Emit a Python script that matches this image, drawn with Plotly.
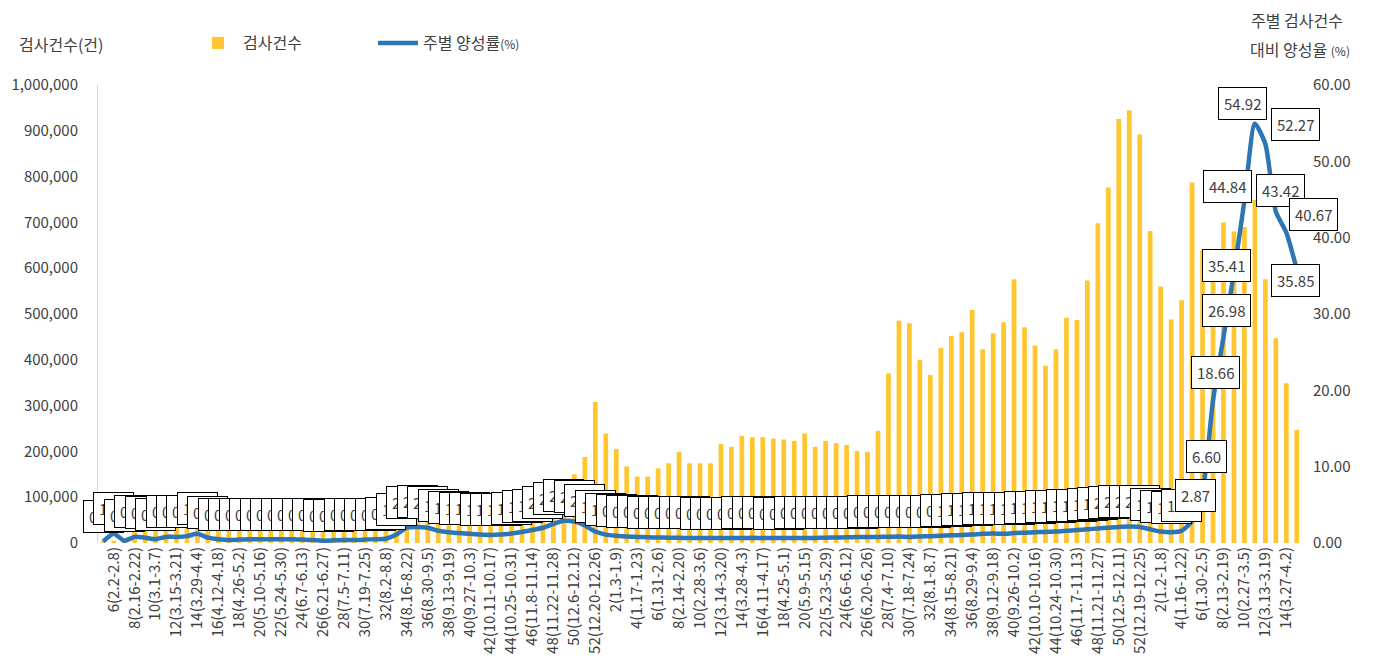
import plotly.graph_objects as go
from plotly.subplots import make_subplots

# ---------------- data ----------------
categories = [
    # 2020
    "5(1.26-2.1)", "6(2.2-2.8)", "7(2.9-2.15)", "8(2.16-2.22)", "9(2.23-2.29)", "10(3.1-3.7)",
    "11(3.8-3.14)", "12(3.15-3.21)", "13(3.22-3.28)", "14(3.29-4.4)", "15(4.5-4.11)", "16(4.12-4.18)",
    "17(4.19-4.25)", "18(4.26-5.2)", "19(5.3-5.9)", "20(5.10-5.16)", "21(5.17-5.23)", "22(5.24-5.30)",
    "23(5.31-6.6)", "24(6.7-6.13)", "25(6.14-6.20)", "26(6.21-6.27)", "27(6.28-7.4)", "28(7.5-7.11)",
    "29(7.12-7.18)", "30(7.19-7.25)", "31(7.26-8.1)", "32(8.2-8.8)", "33(8.9-8.15)", "34(8.16-8.22)",
    "35(8.23-8.29)", "36(8.30-9.5)", "37(9.6-9.12)", "38(9.13-9.19)", "39(9.20-9.26)", "40(9.27-10.3)",
    "41(10.4-10.10)", "42(10.11-10.17)", "43(10.18-10.24)", "44(10.25-10.31)", "45(11.1-11.7)",
    "46(11.8-11.14)", "47(11.15-11.21)", "48(11.22-11.28)", "49(11.29-12.5)", "50(12.6-12.12)",
    "51(12.13-12.19)", "52(12.20-12.26)",
    # 2021
    "1(12.27-1.2)", "2(1.3-1.9)", "3(1.10-1.16)", "4(1.17-1.23)", "5(1.24-1.30)", "6(1.31-2.6)",
    "7(2.7-2.13)", "8(2.14-2.20)", "9(2.21-2.27)", "10(2.28-3.6)", "11(3.7-3.13)", "12(3.14-3.20)",
    "13(3.21-3.27)", "14(3.28-4.3)", "15(4.4-4.10)", "16(4.11-4.17)", "17(4.18-4.24)", "18(4.25-5.1)",
    "19(5.2-5.8)", "20(5.9-5.15)", "21(5.16-5.22)", "22(5.23-5.29)", "23(5.30-6.5)", "24(6.6-6.12)",
    "25(6.13-6.19)", "26(6.20-6.26)", "27(6.27-7.3)", "28(7.4-7.10)", "29(7.11-7.17)", "30(7.18-7.24)",
    "31(7.25-7.31)", "32(8.1-8.7)", "33(8.8-8.14)", "34(8.15-8.21)", "35(8.22-8.28)", "36(8.29-9.4)",
    "37(9.5-9.11)", "38(9.12-9.18)", "39(9.19-9.25)", "40(9.26-10.2)", "41(10.3-10.9)",
    "42(10.10-10.16)", "43(10.17-10.23)", "44(10.24-10.30)", "45(10.31-11.6)", "46(11.7-11.13)",
    "47(11.14-11.20)", "48(11.21-11.27)", "49(11.28-12.4)", "50(12.5-12.11)", "51(12.12-12.18)",
    "52(12.19-12.25)",
    # 2022
    "1(12.26-1.1)", "2(1.2-1.8)", "3(1.9-1.15)", "4(1.16-1.22)", "5(1.23-1.29)", "6(1.30-2.5)",
    "7(2.6-2.12)", "8(2.13-2.19)", "9(2.20-2.26)", "10(2.27-3.5)", "11(3.6-3.12)", "12(3.13-3.19)",
    "13(3.20-3.26)", "14(3.27-4.2)", "15(4.3-4.9)",
]

tests = [
    3000, 5000, 8000, 45000, 95000, 100000, 85000, 80000, 75000, 70000,
    55000, 45000, 40000, 35000, 55000, 80000, 85000, 90000, 75000, 70000,
    65000, 60000, 60000, 55000, 55000, 60000, 55000, 55000, 80000, 120000,
    125000, 115000, 95000, 85000, 80000, 65000, 75000, 80000, 85000, 85000,
    85000, 95000, 110000, 120000, 130000, 150000, 188000, 308000,
    239000, 205000, 167000, 145000, 145000, 163000, 174000, 199000, 174000, 174000,
    174000, 216000, 210000, 234000, 231000, 231000, 228000, 226000, 223000, 239000,
    210000, 223000, 218000, 214000, 201000, 199000, 245000, 370000, 485000, 480000,
    400000, 367000, 426000, 452000, 460000, 509000, 423000, 458000, 482000, 576000,
    471000, 431000, 387000, 423000, 492000, 487000, 573000, 698000, 776000, 926000,
    945000, 892000,
    681000, 560000, 488000, 530000, 787000, 640000, 600000, 700000, 680000, 690000,
    749000, 576000, 447000, 349000, 247000,
]

rate = [
    0.20, 1.20, 0.30, 0.80, 0.70, 0.50, 0.80, 0.80, 0.90, 1.20,
    0.70, 0.50, 0.40, 0.45, 0.50, 0.50, 0.50, 0.50, 0.50, 0.45,
    0.40, 0.30, 0.35, 0.40, 0.40, 0.45, 0.50, 0.55, 1.10, 2.00,
    2.10, 2.00, 1.60, 1.40, 1.30, 1.20, 1.10, 1.05, 1.10, 1.25,
    1.45, 1.70, 2.00, 2.50, 2.90, 2.80, 2.30, 1.50, 1.10, 0.95,
    0.85, 0.80, 0.75, 0.72, 0.70, 0.68, 0.66, 0.65, 0.65, 0.65,
    0.65, 0.66, 0.68, 0.66, 0.65, 0.65, 0.66, 0.66, 0.67, 0.70,
    0.72, 0.75, 0.78, 0.80, 0.80, 0.82, 0.85, 0.80, 0.85, 0.90,
    0.95, 1.00, 1.05, 1.10, 1.20, 1.25, 1.20, 1.30, 1.35, 1.40,
    1.45, 1.50, 1.60, 1.70, 1.80, 1.90, 2.00, 2.10, 2.15, 2.10,
    1.80, 1.50, 1.40, 1.60, 2.87, 6.60, 18.66, 26.98, 35.41, 44.84,
    54.92, 52.27, 43.42, 40.67, 35.85,
]

tick_labels = categories[1::2]

# label placement (pixel shifts) for the readable labels; others sit above the point
label_offsets = {
    104: (3, 26), 105: (4, 36), 106: (2, 28), 107: (3, 27), 108: (-7, 7),
    109: (-17, 14), 110: (-12, 20), 111: (30, 20), 112: (5, 21), 113: (27, 18),
    114: (-1, -11),
}
default_offset = (0, 25)

FONT = "Noto Sans CJK KR, Noto Sans, sans-serif"
TXT = "#404040"
PW, PH = 1204, 458          # plot-area size in px
PL, PT = 98, 85             # plot-area left/top on screen

fig = make_subplots(specs=[[{"secondary_y": True}]])

fig.add_trace(
    go.Bar(x=categories, y=tests, name="검사건수",
           marker=dict(color="#FFC62F", line=dict(width=0))),
    secondary_y=False,
)
fig.add_trace(
    go.Scatter(x=categories, y=rate, name="주별 양성률<span style='font-size:12px'>(%)</span>",
               mode="lines", line=dict(color="#2E75B6", width=4.5, shape="spline", smoothing=0.6)),
    secondary_y=True,
)

annotations = []
for i, (c, v) in enumerate(zip(categories, rate)):
    dx, dy = label_offsets.get(i, default_offset)
    annotations.append(dict(
        x=c, y=v, xref="x", yref="y2", text=f"{v:.2f}", showarrow=False,
        xshift=dx, yshift=dy, xanchor="center", yanchor="middle",
        bgcolor="white", bordercolor="black", borderwidth=1, borderpad=5,
        font=dict(size=15, color=TXT, family=FONT),
    ))


def px(xs):
    return (xs - PL) / PW


def py(ys):
    return (PT + PH - ys) / PH


annotations += [
    dict(text="검사건수(건)", xref="paper", yref="paper", x=px(17), y=py(44),
         xanchor="left", yanchor="middle", showarrow=False, font=dict(size=16, color=TXT, family=FONT)),
    dict(text="주별 검사건수", xref="paper", yref="paper", x=px(1297), y=py(20),
         xanchor="center", yanchor="middle", showarrow=False, font=dict(size=16, color=TXT, family=FONT)),
    dict(text="대비 양성율 <span style='font-size:12px'>(%)</span>", xref="paper", yref="paper",
         x=px(1300), y=py(49),
         xanchor="center", yanchor="middle", showarrow=False, font=dict(size=16, color=TXT, family=FONT)),
]

# the page body adds an 8 px offset, so margins are reduced by 8
fig.update_layout(
    width=1377, height=670,
    margin=dict(l=PL - 8, r=1377 - (PL - 8) - PW, t=PT - 8, b=670 - (PT - 8) - PH, autoexpand=False),
    paper_bgcolor="white", plot_bgcolor="white",
    font=dict(family=FONT, color=TXT, size=14),
    bargap=0.55,
    showlegend=True,
    legend=dict(orientation="h", x=px(193), y=py(43),
                xanchor="left", yanchor="middle", font=dict(size=16, color=TXT, family=FONT),
                entrywidth=125, entrywidthmode="pixels", itemwidth=40,
                bgcolor="rgba(0,0,0,0)"),
    annotations=annotations,
)

fig.update_xaxes(type="category", tickmode="array", tickvals=tick_labels, ticktext=tick_labels,
                 tickangle=-90, tickfont=dict(size=15, color=TXT), showgrid=False,
                 showline=False, ticks="", range=[-0.5, len(categories) - 0.5], domain=[0, 1])
fig.update_yaxes(range=[0, 1000000], dtick=100000, tickformat=",", showgrid=False,
                 showline=True, linecolor="#D9D9D9", linewidth=1, ticks="",
                 ticklabelstandoff=16, tickfont=dict(size=15, color=TXT),
                 zeroline=False, secondary_y=False)
fig.update_yaxes(range=[0, 60], dtick=10, tickformat=".2f", showgrid=False, showline=False,
                 ticks="", ticklabelstandoff=10, tickfont=dict(size=15, color=TXT),
                 zeroline=False, secondary_y=True)

fig.write_html("out.html")
